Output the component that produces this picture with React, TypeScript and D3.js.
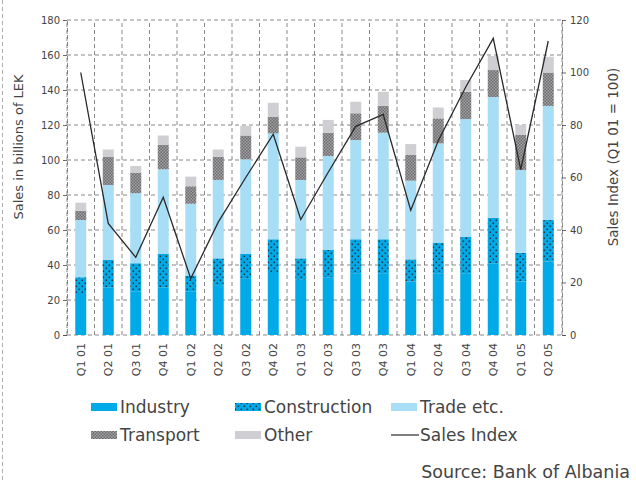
import React, { useRef, useEffect } from "react";
import * as d3 from "d3";

const quarters = [
  "Q1 01", "Q2 01", "Q3 01", "Q4 01",
  "Q1 02", "Q2 02", "Q3 02", "Q4 02",
  "Q1 03", "Q2 03", "Q3 03", "Q4 03",
  "Q1 04", "Q2 04", "Q3 04", "Q4 04",
  "Q1 05", "Q2 05",
];

// sales in billions of LEK, by sector
const industry = [24, 27, 25, 27, 25, 28.5, 32.5, 36, 31.5, 33, 35, 35, 30.5, 35, 35, 41, 30.5, 42];
const construction = [9, 16, 16, 19.3, 9, 15.3, 13.8, 18.7, 12.3, 15.6, 19.7, 19.7, 12.7, 17.8, 21.2, 26, 16.5, 23.7];
const trade = [32.7, 42.7, 40, 48.4, 41, 44.8, 54.1, 60.5, 44.8, 53.7, 56.7, 60.9, 45, 56.7, 67.2, 69, 47.3, 65.2];
const transport = [5.3, 16, 11.8, 13.9, 10, 13.3, 13.6, 9.6, 12.9, 13.3, 15.3, 15.3, 14.7, 14.3, 15.6, 15.4, 20, 19.1];
const other = [4.6, 4.3, 3.8, 5.4, 5.5, 4.1, 5.6, 7.9, 6.1, 7.3, 6.6, 8.1, 6.2, 6.2, 6.7, 8, 5.7, 9];

// sales index (Q1 01 = 100)
const salesIndex = [100, 42.5, 29.6, 52.5, 21.5, 43, 60, 76.5, 44, 62, 79.5, 84, 47.5, 74, 94.5, 113, 63, 112];

const leftTicks = [0, 20, 40, 60, 80, 100, 120, 140, 160, 180];
const rightTicks = [0, 20, 40, 60, 80, 100, 120];

const FONT = "'DejaVu Sans', sans-serif";
const TEXT = "#444";

const App = () => {
  const ref = useRef<SVGSVGElement>(null);

  useEffect(() => {
    const svg = d3.select(ref.current);
    svg.selectAll("*").remove();

    const width = 636;
    const height = 483;
    const margin = { top: 20, right: 74, bottom: 148, left: 67 };

    svg.attr("width", width).attr("height", height).style("background", "#fff");

    const defs = svg.append("defs");

    // construction: blue with dark dots
    const pc = defs.append("pattern")
      .attr("id", "pat-constr")
      .attr("patternUnits", "userSpaceOnUse")
      .attr("width", 6).attr("height", 6);
    pc.append("rect").attr("width", 6).attr("height", 6).attr("fill", "#00aae8");
    pc.append("rect").attr("x", 0.5).attr("y", 0.5).attr("width", 1.6).attr("height", 1.6).attr("fill", "#2a3a44");
    pc.append("rect").attr("x", 3.5).attr("y", 3.5).attr("width", 1.6).attr("height", 1.6).attr("fill", "#2a3a44");

    // transport: grey checks
    const pt = defs.append("pattern")
      .attr("id", "pat-trans")
      .attr("patternUnits", "userSpaceOnUse")
      .attr("width", 3).attr("height", 3);
    pt.append("rect").attr("width", 3).attr("height", 3).attr("fill", "#a2a2a4");
    pt.append("rect").attr("width", 1.5).attr("height", 1.5).attr("fill", "#6c6c6e");
    pt.append("rect").attr("x", 1.5).attr("y", 1.5).attr("width", 1.5).attr("height", 1.5).attr("fill", "#6c6c6e");

    const x = d3.scaleBand()
      .domain(quarters)
      .range([margin.left, width - margin.right])
      .paddingInner(0.6)
      .paddingOuter(0.3);

    const yL = d3.scaleLinear().domain([0, 180]).range([height - margin.bottom, margin.top]);
    const yR = d3.scaleLinear().domain([0, 120]).range([height - margin.bottom, margin.top]);

    const x0 = margin.left;
    const x1 = width - margin.right;
    const gridColor = "#6a6a6a";
    const dash = "4,3";

    // horizontal grid
    svg.append("g")
      .selectAll("line")
      .data(leftTicks)
      .enter()
      .append("line")
      .attr("x1", x0).attr("x2", x1)
      .attr("y1", d => yL(d)).attr("y2", d => yL(d))
      .attr("stroke", gridColor)
      .attr("stroke-width", 0.8)
      .attr("stroke-dasharray", dash);

    // vertical grid at category boundaries
    const bounds = quarters.map(q => (x(q) as number) - x.step() * 0.3).concat([x1]);
    svg.append("g")
      .selectAll("line")
      .data(bounds)
      .enter()
      .append("line")
      .attr("x1", d => d).attr("x2", d => d)
      .attr("y1", yL(0)).attr("y2", yL(180))
      .attr("stroke", gridColor)
      .attr("stroke-width", 0.8)
      .attr("stroke-dasharray", dash);

    // stacked bars
    const fills = ["#00aae8", "url(#pat-constr)", "#a8ddf6", "url(#pat-trans)", "#cfcfd3"];
    const layers = [industry, construction, trade, transport, other];
    quarters.forEach((q, i) => {
      let base = 0;
      layers.forEach((layer, k) => {
        const v = layer[i];
        svg.append("rect")
          .attr("x", x(q) as number)
          .attr("width", x.bandwidth())
          .attr("y", yL(base + v))
          .attr("height", yL(base) - yL(base + v))
          .attr("fill", fills[k]);
        base += v;
      });
    });

    // axes
    const axL = svg.append("g")
      .attr("transform", `translate(${x0},0)`)
      .call(d3.axisLeft(yL).tickValues(leftTicks).tickSize(4).tickPadding(3));
    const axR = svg.append("g")
      .attr("transform", `translate(${x1},0)`)
      .call(d3.axisRight(yR).tickValues(rightTicks).tickSize(4).tickPadding(4));
    const axB = svg.append("g")
      .attr("transform", `translate(0,${yL(0)})`)
      .call(d3.axisBottom(x).tickSize(0).tickPadding(8));

    [axL, axR, axB].forEach(ax => {
      ax.select(".domain").attr("stroke", gridColor).attr("stroke-width", 0.8).attr("stroke-dasharray", dash);
      ax.selectAll(".tick line").attr("stroke", "#444").attr("stroke-width", 0.8);
      ax.selectAll("text").style("font-family", FONT).style("font-size", "10px").attr("fill", TEXT);
    });
    axB.select(".domain").remove();
    axB.selectAll(".tick text")
      .style("font-size", "11px")
      .attr("transform", "rotate(-90)")
      .attr("text-anchor", "end")
      .attr("dy", "0.35em")
      .attr("x", -8)
      .attr("y", 0);

    // sales index line
    const line = d3.line<number>()
      .x((_, i) => (x(quarters[i]) as number) + x.bandwidth() / 2)
      .y(d => yR(d));
    svg.append("path")
      .datum(salesIndex)
      .attr("fill", "none")
      .attr("stroke", "#2a2a2a")
      .attr("stroke-width", 1.3)
      .attr("d", line);

    // axis titles
    svg.append("text")
      .attr("transform", "rotate(-90)")
      .attr("x", -147)
      .attr("y", 23)
      .attr("text-anchor", "middle")
      .style("font-family", FONT)
      .style("font-size", "13px")
      .attr("fill", TEXT)
      .text("Sales in billions of LEK");

    svg.append("text")
      .attr("transform", "rotate(-90)")
      .attr("x", -157)
      .attr("y", 618)
      .attr("text-anchor", "middle")
      .style("font-family", FONT)
      .style("font-size", "13.5px")
      .attr("fill", TEXT)
      .text("Sales Index (Q1 01 = 100)");

    // legend
    const legend = [
      { label: "Industry", fill: fills[0], lx: 91, ly: 407 },
      { label: "Construction", fill: fills[1], lx: 235, ly: 407 },
      { label: "Trade etc.", fill: fills[2], lx: 391, ly: 407 },
      { label: "Transport", fill: fills[3], lx: 91, ly: 435 },
      { label: "Other", fill: fills[4], lx: 235, ly: 435 },
      { label: "Sales Index", fill: null, lx: 391, ly: 435 },
    ];
    legend.forEach(d => {
      if (d.fill) {
        svg.append("rect")
          .attr("x", d.lx).attr("y", d.ly - 4)
          .attr("width", 26).attr("height", 8)
          .attr("fill", d.fill);
      } else {
        svg.append("line")
          .attr("x1", d.lx).attr("x2", d.lx + 28)
          .attr("y1", d.ly).attr("y2", d.ly)
          .attr("stroke", "#2a2a2a").attr("stroke-width", 1.2);
      }
      svg.append("text")
        .attr("x", d.lx + 29)
        .attr("y", d.ly)
        .attr("dy", "0.35em")
        .style("font-family", FONT)
        .style("font-size", "17px")
        .attr("fill", TEXT)
        .text(d.label);
    });

    svg.append("text")
      .attr("x", 630)
      .attr("y", 472)
      .attr("dy", "0.35em")
      .attr("text-anchor", "end")
      .style("font-family", FONT)
      .style("font-size", "17.5px")
      .attr("fill", TEXT)
      .text("Source: Bank of Albania");

    // page frame on the left
    svg.append("line")
      .attr("x1", 2.5).attr("x2", 2.5)
      .attr("y1", 0).attr("y2", height)
      .attr("stroke", "#999")
      .attr("stroke-width", 0.8)
      .attr("stroke-dasharray", "4,3");
  }, []);

  return (
    <svg ref={ref} style={{ position: "absolute", left: 0, top: 0 }}></svg>
  );
};

export default App;
